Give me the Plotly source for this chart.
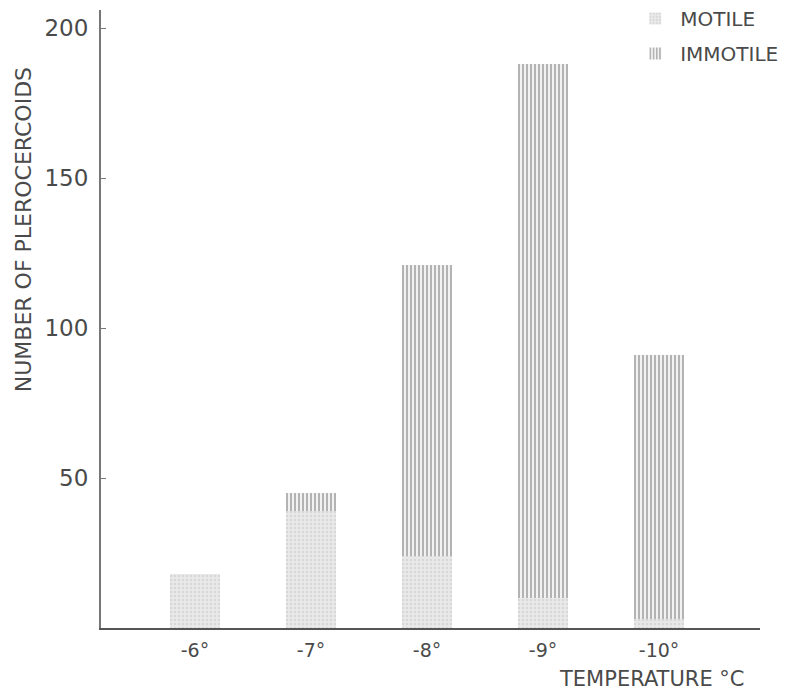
import plotly.graph_objects as go

categories = ["-6°", "-7°", "-8°", "-9°", "-10°"]
motile = [18, 39, 24, 10, 3]
immotile = [0, 6, 97, 178, 88]
y_ticks = [50, 100, 150, 200]

font_family = "DejaVu Sans, Liberation Sans, sans-serif"
ink = "#4a4a4a"

fig = go.Figure()
fig.add_trace(go.Bar(
    x=categories, y=motile, name="MOTILE", width=0.43, legendgroup="m",
    marker=dict(color="#e6e6e6", line=dict(width=0),
                pattern=dict(shape=".", fgcolor="#c4c4c4", bgcolor="#e9e9e9", size=4, solidity=0.3)),
))
fig.add_trace(go.Bar(
    x=categories, y=immotile, name="IMMOTILE", width=0.43, legendgroup="i",
    marker=dict(color="#ffffff", line=dict(width=0),
                pattern=dict(shape="|", fgcolor="#666666", bgcolor="#f2f2f2", size=4, solidity=0.45)),
))

# page body adds an 8px offset, so the figure is sized 8px smaller
fig.update_layout(
    barmode="stack",
    width=803, height=683,
    margin=dict(l=93, r=51, t=2, b=63, autoexpand=False),
    paper_bgcolor="white", plot_bgcolor="white",
    font=dict(family=font_family, color=ink, size=20),
    showlegend=True,
    legend=dict(x=0.803, y=1.018, xanchor="left", yanchor="top",
                traceorder="grouped", tracegroupgap=6,
                font=dict(size=20, color=ink), bgcolor="rgba(0,0,0,0)",
                itemwidth=40),
    xaxis=dict(range=[-0.81, 4.87], showline=True, linecolor="#555", linewidth=2,
               ticks="", showgrid=False, zeroline=False, ticklabelstandoff=4,
               tickfont=dict(size=19, color=ink)),
    yaxis=dict(range=[0, 206], showline=True, linecolor="#777", linewidth=2,
               tickvals=y_ticks, ticktext=[str(v) for v in y_ticks],
               ticks="inside", ticklen=5, tickcolor="#777", ticklabelstandoff=6,
               showgrid=False, zeroline=False,
               tickfont=dict(size=23, color=ink)),
)

fig.add_annotation(text="NUMBER OF PLEROCERCOIDS", textangle=-90,
                   xref="paper", yref="paper", x=-0.118, y=0.644,
                   xanchor="center", yanchor="middle", showarrow=False,
                   font=dict(size=22, color=ink))
fig.add_annotation(text="TEMPERATURE °C",
                   xref="paper", yref="paper", x=0.978, y=-0.082,
                   xanchor="right", yanchor="middle", showarrow=False,
                   borderpad=0,
                   font=dict(size=21, color=ink))

fig.write_html("out.html")
